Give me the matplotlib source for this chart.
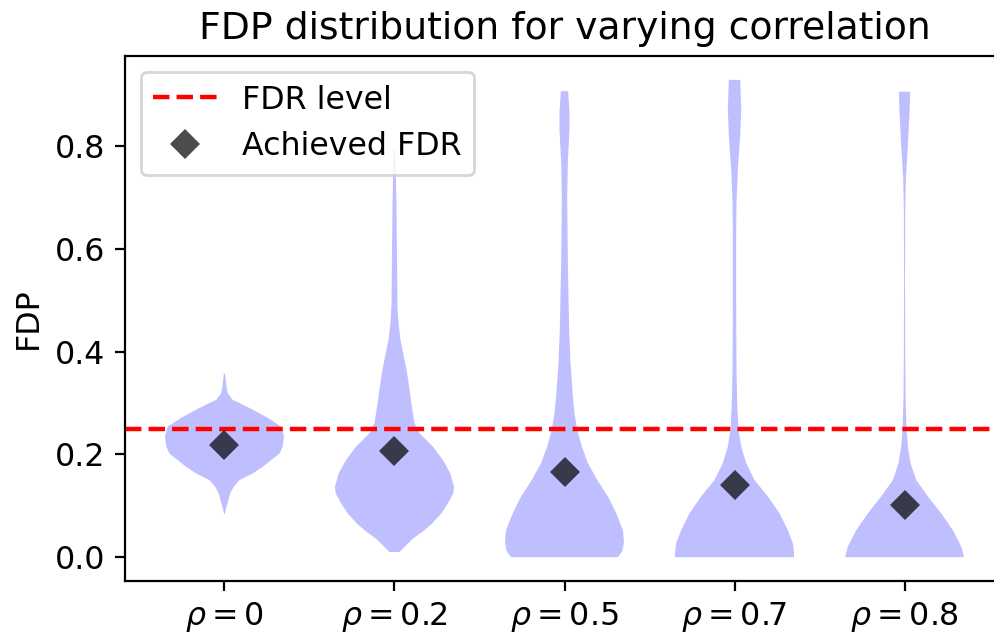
import matplotlib
matplotlib.use("Agg")
import matplotlib.pyplot as plt

plt.rcParams["font.size"] = 11.4

rho_labels = [r"$\rho = 0$", r"$\rho = 0.2$", r"$\rho = 0.5$", r"$\rho = 0.7$", r"$\rho = 0.8$"]
fdr_level = 0.25
achieved_fdr = [0.2185, 0.2075, 0.1665, 0.1405, 0.1015]

# density profiles (FDP level, relative width)
fdp_rho0 = [0.084, 0.098, 0.111, 0.124, 0.137, 0.150, 0.163, 0.176, 0.189, 0.202,
            0.215, 0.235, 0.254, 0.271, 0.287, 0.300, 0.306, 0.319, 0.332, 0.357]
dens_rho0 = [1, 6, 12, 17, 28, 45, 85, 115, 140, 165,
             174, 178, 170, 130, 85, 45, 25, 10, 6, 2]

fdp_rho02 = [0.010, 0.020, 0.036, 0.050, 0.065, 0.085, 0.105, 0.124, 0.137, 0.163,
             0.189, 0.215, 0.241, 0.261, 0.293, 0.326, 0.358, 0.391, 0.423, 0.456,
             0.488, 0.553, 0.619, 0.684, 0.748, 0.794]
dens_rho02 = [15, 30, 55, 85, 112, 140, 160, 176, 178, 167,
              145, 115, 75, 60, 52, 45, 38, 28, 18, 12,
              9, 8, 7, 6, 4, 2]

fdp_rho05 = [0.0, 0.007, 0.014, 0.030, 0.052, 0.085, 0.118, 0.150, 0.183, 0.215,
             0.248, 0.280, 0.313, 0.378, 0.443, 0.508, 0.573, 0.638, 0.703, 0.768,
             0.833, 0.866, 0.907]
dens_rho05 = [160, 168, 174, 178, 175, 155, 130, 98, 70, 52,
              38, 30, 25, 18, 14, 12, 10, 9, 8, 10,
              15, 15, 11]

fdp_rho07 = [0.0, 0.008, 0.026, 0.052, 0.085, 0.118, 0.150, 0.183, 0.215, 0.248,
             0.300, 0.365, 0.495, 0.625, 0.690, 0.755, 0.820, 0.872, 0.929]
dens_rho07 = [178, 178, 175, 160, 135, 100, 60, 35, 20, 12,
              8, 6, 5, 5, 6, 10, 17, 20, 17]

fdp_rho08 = [0.0, 0.020, 0.052, 0.085, 0.118, 0.150, 0.183, 0.215, 0.248, 0.313,
             0.410, 0.541, 0.671, 0.736, 0.801, 0.866, 0.906]
dens_rho08 = [178, 170, 145, 110, 70, 35, 18, 10, 6, 3,
              2, 1.5, 2, 4, 10, 15, 17]

profiles = [(fdp_rho0, dens_rho0), (fdp_rho02, dens_rho02), (fdp_rho05, dens_rho05),
            (fdp_rho07, dens_rho07), (fdp_rho08, dens_rho08)]

vpstats = []
for (fdp, dens), m in zip(profiles, achieved_fdr):
    vpstats.append({"coords": fdp, "vals": dens, "mean": m, "median": m,
                    "min": fdp[0], "max": fdp[-1]})

positions = list(range(1, len(rho_labels) + 1))

fig = plt.figure(figsize=(995 / 200, 637 / 200), dpi=200)
ax = fig.add_axes([125 / 995, 56 / 637, 879 / 995, 525 / 637])

parts = ax.violin(vpstats, positions=positions, widths=0.7,
                  showmeans=False, showextrema=False, showmedians=False)
for body in parts["bodies"]:
    body.set_facecolor("blue")
    body.set_edgecolor("none")
    body.set_alpha(0.25)

ax.axhline(fdr_level, color="red", linestyle="--", linewidth=1.6, label="FDR level")
ax.plot(positions, achieved_fdr, "D", color="black", alpha=0.7, markersize=7.8,
        markeredgewidth=0, linestyle="none", label="Achieved FDR")

ax.set_xticks(positions)
ax.set_xticklabels(rho_labels)
ax.set_ylabel("FDP")
ax.set_title("FDP distribution for varying correlation", fontsize=13.6)
ax.legend(loc="upper left")

fig.savefig("out.png", dpi=200)
